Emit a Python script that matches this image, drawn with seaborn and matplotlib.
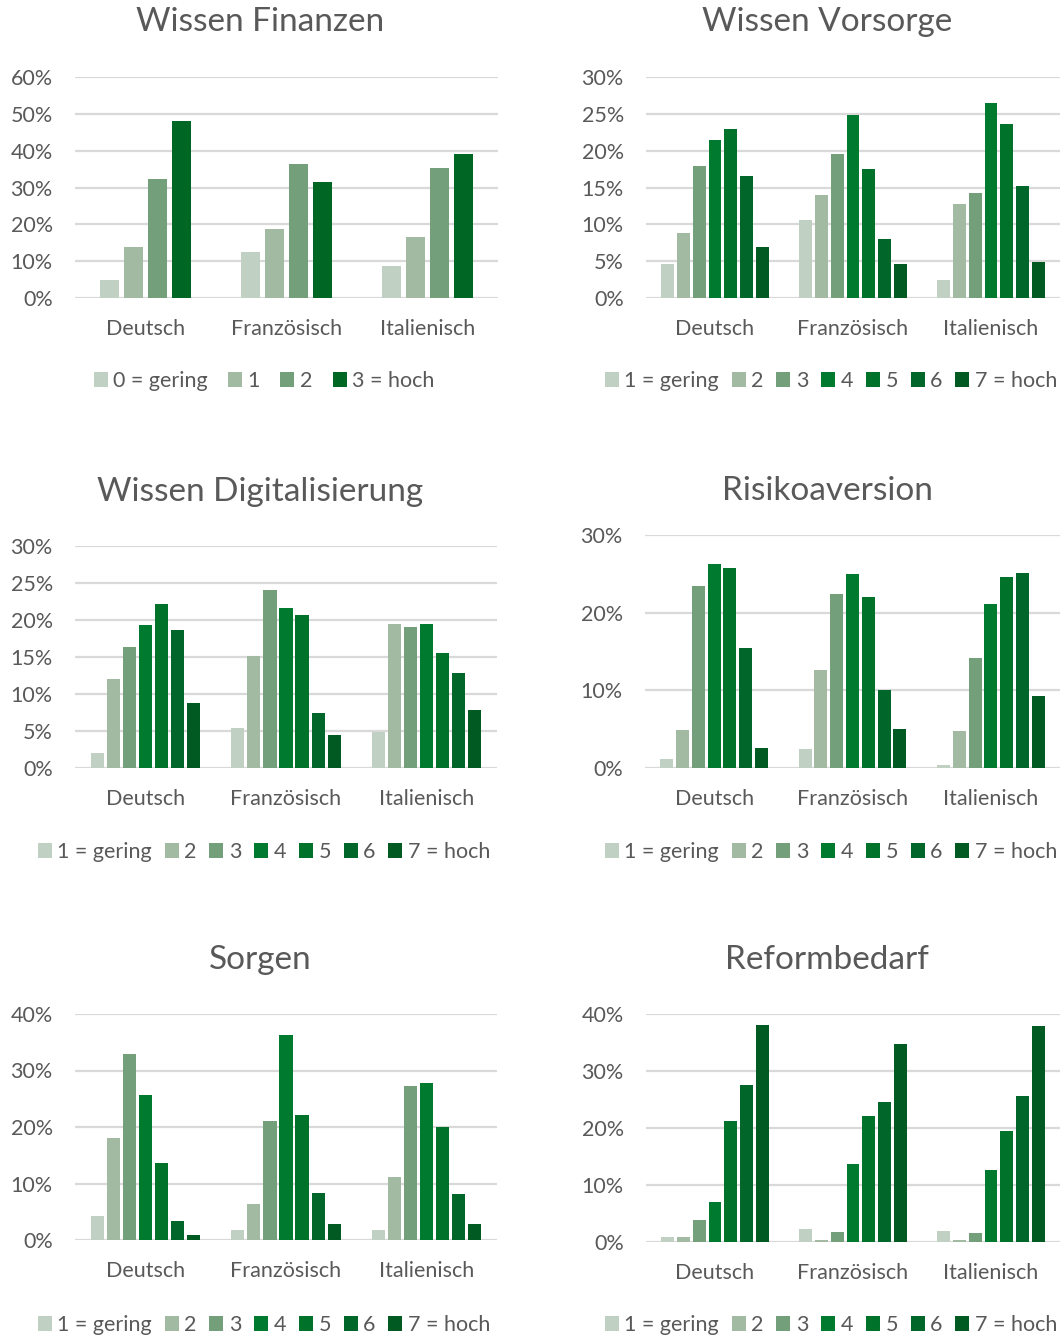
import numpy as np
import pandas as pd
import matplotlib
matplotlib.use("Agg")
import matplotlib.pyplot as plt
import seaborn as sns
from matplotlib.ticker import PercentFormatter, MultipleLocator

sns.set_theme(style="white")
plt.rcParams['font.family'] = ['Lato', 'DejaVu Sans']

W, H = 1063, 1337
TEXT = '#595959'
GRID = '#D9D9D9'

sprachen = ['Deutsch', 'Französisch', 'Italienisch']

# Antwortstufen
stufen4 = ['0 = gering', '1', '2', '3 = hoch']
stufen7 = ['1 = gering', '2', '3', '4', '5', '6', '7 = hoch']

farben4 = ['#C0D0C2', '#A2BAA2', '#739F7A', '#006624']
farben7 = ['#C0D0C2', '#A2BAA2', '#739F7A', '#007A2F', '#00722A', '#006629', '#005A22']

# Anteile in Prozent, je Sprachregion (Deutsch, Französisch, Italienisch)
wissen_finanzen = [
    [5.0, 13.8, 32.3, 48.1],
    [12.5, 18.8, 36.3, 31.6],
    [8.6, 16.5, 35.2, 39.0],
]
wissen_vorsorge = [
    [4.6, 8.8, 17.9, 21.5, 23.0, 16.6, 6.9],
    [10.6, 14.0, 19.6, 24.9, 17.5, 8.0, 4.6],
    [2.4, 12.7, 14.2, 26.5, 23.6, 15.2, 4.9],
]
wissen_digital = [
    [2.0, 12.0, 16.3, 19.3, 22.1, 18.7, 8.8],
    [5.4, 15.2, 24.1, 21.6, 20.7, 7.5, 4.5],
    [4.9, 19.5, 19.0, 19.5, 15.5, 12.9, 7.9],
]
risikoaversion = [
    [1.1, 4.9, 23.4, 26.3, 25.8, 15.5, 2.6],
    [2.4, 12.6, 22.4, 25.0, 22.0, 10.1, 5.0],
    [0.4, 4.8, 14.2, 21.1, 24.6, 25.1, 9.3],
]
sorgen = [
    [4.3, 18.0, 33.0, 25.7, 13.7, 3.4, 0.9],
    [1.8, 6.4, 21.1, 36.3, 22.2, 8.4, 2.8],
    [1.8, 11.2, 27.3, 27.8, 20.0, 8.2, 2.9],
]
reformbedarf = [
    [0.8, 0.9, 3.9, 7.0, 21.2, 27.6, 38.0],
    [2.2, 0.4, 1.8, 13.6, 22.1, 24.5, 34.8],
    [2.0, 0.4, 1.5, 12.7, 19.4, 25.6, 37.9],
]

# Titel, Daten, Stufen, Farben, ymax, Schritt, Achsen-Box (px: links, rechts, oben, unten),
# Titel-y, Legenden-Mitte (x, y), Gruppenbreite
panels = [
    ('Wissen Finanzen', wissen_finanzen, stufen4, farben4, 60, 10, (75, 498, 77, 298), 22, (264, 381), 0.68),
    ('Wissen Vorsorge', wissen_vorsorge, stufen7, farben7, 30, 5, (646, 1060, 77, 298), 22, (831, 381), 0.80),
    ('Wissen Digitalisierung', wissen_digital, stufen7, farben7, 30, 5, (75, 497, 546, 768), 492, (264, 852), 0.80),
    ('Risikoaversion', risikoaversion, stufen7, farben7, 30, 10, (645, 1060, 535, 768), 491, (831, 852), 0.80),
    ('Sorgen', sorgen, stufen7, farben7, 40, 10, (75, 497, 1014, 1240), 960, (264, 1325), 0.80),
    ('Reformbedarf', reformbedarf, stufen7, farben7, 40, 10, (646, 1060, 1014, 1242), 960, (831, 1325), 0.80),
]

fig = plt.figure(figsize=(W / 100, H / 100), dpi=100)

for titel, werte, stufen, farben, ymax, step, box, ty, leg, breite in panels:
    l, r, t, b = box
    ax = fig.add_axes([l / W, 1 - b / H, (r - l) / W, (b - t) / H])

    rows = []
    for sprache, reihe in zip(sprachen, werte):
        for stufe, v in zip(stufen, reihe):
            rows.append({'Sprache': sprache, 'Stufe': stufe, 'Anteil': v})
    df = pd.DataFrame(rows)

    sns.barplot(data=df, x='Sprache', y='Anteil', hue='Stufe', hue_order=stufen,
                palette=farben, saturation=1, width=breite, gap=0.18, linewidth=0,
                errorbar=None, ax=ax)

    ax.set_ylim(0, ymax)
    ax.set_xlim(-0.5, 2.5)
    ax.yaxis.set_major_locator(MultipleLocator(step))
    ax.yaxis.set_major_formatter(PercentFormatter(decimals=0))
    ax.yaxis.grid(True, color=GRID, linewidth=1.6)
    ax.set_axisbelow(True)
    for s in ax.spines.values():
        s.set_visible(False)
    ax.set_xlabel('')
    ax.set_ylabel('')
    ax.tick_params(axis='y', length=0, pad=16, labelsize=15.5, labelcolor=TEXT)
    ax.tick_params(axis='x', length=0, pad=15, labelsize=15.5, labelcolor=TEXT)

    handles, labels = ax.get_legend_handles_labels()
    if ax.get_legend() is not None:
        ax.get_legend().remove()
    fig.legend(handles, labels, loc='center', bbox_to_anchor=(leg[0] / W, 1 - leg[1] / H),
               ncol=len(stufen), frameon=False, fontsize=15.5, labelcolor=TEXT,
               handlelength=0.65, handleheight=0.65, handletextpad=0.25,
               columnspacing=0.95 if len(stufen) == 4 else 0.6, borderaxespad=0)

    cx = 260 if l < 500 else 827
    fig.text(cx / W, 1 - ty / H, titel, ha='center', va='center',
             fontsize=24, color=TEXT)

fig.savefig('out.png', dpi=100)
